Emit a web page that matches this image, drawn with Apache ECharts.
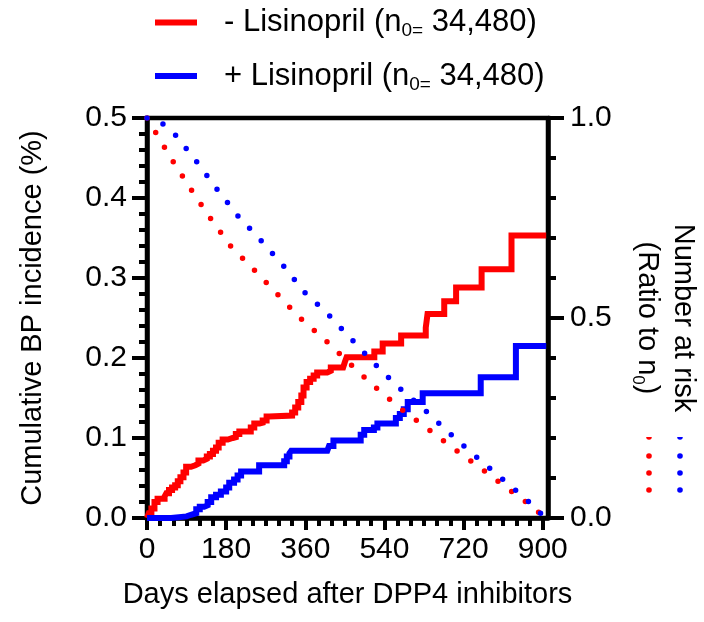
<!DOCTYPE html>
<html><head><meta charset="utf-8">
<script src="https://cdn.jsdelivr.net/npm/echarts@6/dist/echarts.min.js"></script>
<style>html,body{margin:0;padding:0;background:#fff}#c{width:704px;height:622px}</style>
</head><body><div id="c"></div>
<script>
const legendNames = ['- Lisinopril', '+ Lisinopril'];
const n0Text = '34,480';
const xMajorTicks = [0, 180, 360, 540, 720, 900];
const xMinorTicks = [30, 60, 90, 120, 150, 210, 240, 270, 300, 330, 390, 420, 450, 480, 510, 570, 600, 630, 660, 690, 750, 780, 810, 840, 870];

// Cumulative BP incidence (%) step curves: day of step, value after step
const redDays = [0,4,10,17,24,40,44,50,57,64,70,76,83,89,100,110,117,128,136,143,150,157,163,172,184,195,202,210,236,244,256,263,272,278,330,337,344,351,356,363,371,379,387,410,418,446,450,454,517,536,578,634,638,676,703,761,829,908];
const redInc = [0,0.006,0.012,0.020,0.024,0.027,0.031,0.035,0.038,0.041,0.046,0.051,0.057,0.064,0.066,0.068,0.072,0.074,0.077,0.080,0.084,0.088,0.094,0.098,0.100,0.101,0.105,0.108,0.113,0.118,0.119,0.122,0.127,0.128,0.132,0.138,0.145,0.153,0.163,0.170,0.174,0.178,0.182,0.184,0.188,0.189,0.195,0.201,0.208,0.218,0.228,0.238,0.255,0.271,0.288,0.311,0.353,0.353];
const blueDays = [0,55,90,100,112,120,130,138,146,157,168,180,187,198,206,214,255,312,318,324,328,410,414,424,486,494,516,524,566,575,584,593,627,759,839,908];
const blueInc = [0,0.002,0.004,0.006,0.011,0.014,0.016,0.020,0.026,0.029,0.033,0.038,0.044,0.048,0.053,0.058,0.066,0.071,0.077,0.081,0.084,0.086,0.090,0.097,0.104,0.110,0.113,0.118,0.125,0.130,0.136,0.145,0.156,0.176,0.215,0.215];

// Number at risk (ratio to n0)
const riskRedDays = [0,20,60,102,145,190,244,296,348,406,460,517,575,636,696,757,817,879,905];
const riskRed = [1,0.963,0.890,0.818,0.748,0.680,0.620,0.560,0.500,0.444,0.387,0.329,0.275,0.225,0.175,0.126,0.076,0.026,0];
const riskBlueDays = [0,37,66,114,160,207,259,310,357,412,465,517,571,628,683,739,796,854,882,905];
const riskBlue = [1,0.985,0.956,0.889,0.821,0.755,0.694,0.631,0.566,0.509,0.447,0.386,0.328,0.274,0.217,0.162,0.109,0.055,0.027,0];

const FONT = "'Liberation Sans', Arial, sans-serif";
const RED = '#ff0000', BLUE = '#0000ff';
const zip = (a, b) => a.map((v, i) => [v, b[i]]);

const chart = echarts.init(document.getElementById('c'), null, {renderer: 'canvas'});
const axisLine = () => ({show: true, onZero: false, lineStyle: {color: '#000', width: 4.5}});
const tickStyle = () => ({color: '#000', width: 4});
const labelStyle = () => ({color: '#000', fontSize: 30, fontFamily: FONT});
const nameStyle = () => ({color: '#000', fontSize: 29, fontFamily: FONT});

chart.setOption({
  animation: false,
  backgroundColor: '#fff',
  grid: {left: 147, right: 156, top: 118, bottom: 104, show: true, borderColor: '#000', borderWidth: 4.5,
         backgroundColor: 'transparent', containLabel: false, outerBoundsMode: 'none'},
  legend: {
    data: legendNames.map(n => ({name: n, icon: 'rect'})),
    orient: 'vertical', left: 155, top: 7, padding: 0,
    itemWidth: 42, itemHeight: 6, itemGap: 20, selectedMode: false,
    formatter: name => `{p|${name} (n}{s|0=}{t| ${n0Text})}`,
    textStyle: {
      color: '#000', fontFamily: FONT,
      rich: {
        p: {fontSize: 31, lineHeight: 36, fontFamily: FONT, color: '#000', padding: [0, 0, 0, 22]},
        t: {fontSize: 31, lineHeight: 36, fontFamily: FONT, color: '#000'},
        s: {fontSize: 19, lineHeight: 16, verticalAlign: 'bottom', fontFamily: FONT, color: '#000'}
      }
    }
  },
  xAxis: [
    {type: 'value', min: 0, max: 912, position: 'bottom',
     axisLine: axisLine(),
     axisTick: {show: true, customValues: xMajorTicks, length: 12, lineStyle: tickStyle()},
     axisLabel: Object.assign({customValues: xMajorTicks, margin: 17}, labelStyle()),
     splitLine: {show: false},
     name: 'Days elapsed after DPP4 inhibitors', nameLocation: 'middle', nameGap: 62, nameTextStyle: nameStyle()},
    {type: 'value', min: 0, max: 912, position: 'bottom',
     axisLine: {show: false, onZero: false},
     axisTick: {show: true, customValues: xMinorTicks, length: 8, lineStyle: tickStyle()},
     axisLabel: {show: false}, splitLine: {show: false}}
  ],
  yAxis: [
    {type: 'value', min: 0, max: 0.5, interval: 0.1, position: 'left',
     axisLine: axisLine(),
     axisTick: {show: true, inside: false, length: 15, lineStyle: tickStyle()},
     minorTick: {show: true, splitNumber: 5, length: 8, lineStyle: tickStyle()},
     axisLabel: Object.assign({margin: 20, formatter: v => v.toFixed(1)}, labelStyle()),
     splitLine: {show: false}, minorSplitLine: {show: false},
     name: 'Cumulative BP incidence (%)', nameLocation: 'middle', nameGap: 100, nameTextStyle: nameStyle()},
    {type: 'value', min: 0, max: 1, interval: 0.5, position: 'right',
     axisLine: axisLine(),
     axisTick: {show: true, inside: false, length: 16, lineStyle: tickStyle()},
     minorTick: {show: true, splitNumber: 5, length: 8, lineStyle: tickStyle()},
     axisLabel: Object.assign({margin: 22, formatter: v => v.toFixed(1)}, labelStyle()),
     splitLine: {show: false}, minorSplitLine: {show: false},
     name: '{a|Number at risk}\n{a|(Ratio to n}{s|0}{a|)}', nameLocation: 'middle', nameRotate: -90, nameGap: 81,
     nameTextStyle: {color: '#000', fontFamily: FONT, rich: {
       a: {fontSize: 29, lineHeight: 36, fontFamily: FONT, color: '#000'},
       s: {fontSize: 17, lineHeight: 16, verticalAlign: 'bottom', fontFamily: FONT, color: '#000'}
     }}}
  ],
  graphic: [
    {type: 'sector', shape: {cx: 649, cy: 437, r: 2.8, startAngle: 0, endAngle: Math.PI}, style: {fill: RED}},
    {type: 'circle', shape: {cx: 649, cy: 456, r: 2.8}, style: {fill: RED}},
    {type: 'circle', shape: {cx: 649, cy: 473, r: 2.8}, style: {fill: RED}},
    {type: 'circle', shape: {cx: 649, cy: 490, r: 2.8}, style: {fill: RED}},
    {type: 'sector', shape: {cx: 680, cy: 437, r: 2.8, startAngle: 0, endAngle: Math.PI}, style: {fill: BLUE}},
    {type: 'circle', shape: {cx: 680, cy: 456, r: 2.8}, style: {fill: BLUE}},
    {type: 'circle', shape: {cx: 680, cy: 473, r: 2.8}, style: {fill: BLUE}},
    {type: 'circle', shape: {cx: 680, cy: 490, r: 2.8}, style: {fill: BLUE}}
  ],
  series: [
    {name: legendNames[0], type: 'line', step: 'end', data: zip(redDays, redInc), symbol: 'none',
     color: RED, lineStyle: {color: RED, width: 6, join: 'miter'}, itemStyle: {color: RED}, z: 3},
    {name: legendNames[1], type: 'line', step: 'end', data: zip(blueDays, blueInc), symbol: 'none',
     color: BLUE, lineStyle: {color: BLUE, width: 6, join: 'miter'}, itemStyle: {color: BLUE}, z: 3},
    {name: 'risk -', type: 'line', yAxisIndex: 1, data: zip(riskRedDays, riskRed), symbol: 'none',
     lineStyle: {color: RED, width: 5.5, type: [0, 17], cap: 'round'}, z: 4},
    {name: 'risk +', type: 'line', yAxisIndex: 1, data: zip(riskBlueDays, riskBlue), symbol: 'none',
     lineStyle: {color: BLUE, width: 5.5, type: [0, 17], cap: 'round'}, z: 4}
  ]
});
</script></body></html>
